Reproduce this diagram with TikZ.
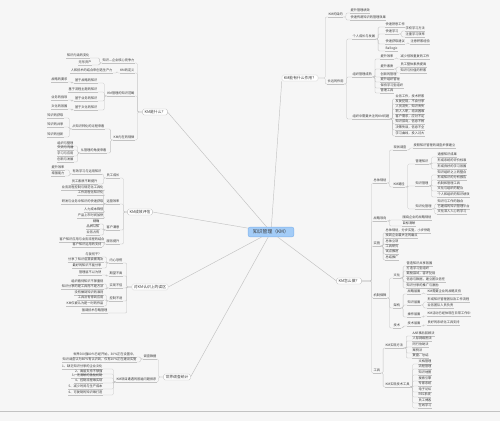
\documentclass[tikz,border=0pt]{standalone}
\usepackage{fontspec}
\setmainfont{Noto Sans CJK SC}
\definecolor{bg}{HTML}{F6F6F6}
\definecolor{ln}{HTML}{C2C2C2}
\definecolor{tx}{HTML}{3A3A3A}
\definecolor{ctrf}{HTML}{A3CCF7}
\definecolor{ctrd}{HTML}{7FB2EA}
\tikzset{
  leafbase/.style={font=\fontsize{3.2}{3.8}\selectfont, text=tx, inner xsep=0.4pt, inner ysep=0.5pt,
    text height=2.5pt, text depth=0.5pt,
    append after command={(\tikzlastnode.south west) edge[draw=ln,line width=0.3pt] (\tikzlastnode.south east)}},
  rleaf/.style={leafbase,anchor=south west},
  lleaf/.style={leafbase,anchor=south east},
  mainbox/.style={draw=ln, fill=white, rounded corners=1.5pt, line width=0.3pt,
    font=\fontsize{3.8}{4.4}\selectfont, text=tx, inner xsep=2pt, inner ysep=1.2pt,
    text height=2.9pt, text depth=0.6pt},
  ctrbox/.style={draw=ctrd, fill=ctrf, rounded corners=2pt, line width=0.4pt,
    font=\fontsize{4.8}{5.5}\selectfont, text=tx, inner xsep=5pt, inner ysep=2.6pt},
  cn/.style={draw=ln, line width=0.3pt, rounded corners=1.2pt},
  trunk/.style={draw=ln, line width=0.45pt},
}
\newcommand\conR[3][2.5pt]{\foreach \kid in {#3}{\draw[cn] (#2.south east) -- ++(#1,0) |- (\kid.south west);}}
\newcommand\conL[3][2.5pt]{\foreach \kid in {#3}{\draw[cn] (#2.south west) -- ++(-#1,0) |- (\kid.south east);}}
\newcommand\conRB[3][5pt]{\foreach \kid in {#3}{\draw[cn] (#2.east) -- ++(#1,0) |- (\kid.south west);}}
\newcommand\conLB[3][5pt]{\foreach \kid in {#3}{\draw[cn] (#2.west) -- ++(-#1,0) |- (\kid.south east);}}
\begin{document}
\begin{tikzpicture}[x=1pt,y=-1pt]
\path[fill=bg] (0,0) rectangle (500,421);
\useasboundingbox (0,0) rectangle (500,421);
\draw[ln, line width=0.4pt] (0,411) -- (500,411);

% centre
\node[ctrbox] (ctr) at (271,232) {知识管理（KM）};

% ===== KM是什么？ =====
\node[mainbox] (a0) at (155,112) {KM是什么？};
\node[lleaf] (a1) at (135,63) {知识—企业核心竞争力};
\node[lleaf] (a11) at (90,58) {知识内涵的变化};
\node[lleaf] (a12) at (92,65) {无形资产};
\node[lleaf] (a2) at (135,73) {KM的定义};
\node[lleaf] (a21) at (113,73) {人和技术的结合来创造生产力};
\node[lleaf] (a3) at (135,96) {KM管理的知识范畴};
\node[lleaf] (a31) at (98,83) {基于战略的知识};
\node[lleaf] (a311) at (68,82) {战略的要求};
\node[lleaf] (a32) at (98,92) {基于流程主题的知识};
\node[lleaf] (a33) at (98,101) {基于业务的知识};
\node[lleaf] (a331) at (68,100) {业务的指导};
\node[lleaf] (a34) at (98,110) {基于文化的知识};
\node[lleaf] (a341) at (68,109) {文化的氛围};
\node[lleaf] (a4) at (135,140) {KM内在的规律};
\node[lleaf] (a41) at (105,129) {从知识转化的过程来看};
\node[lleaf] (a411) at (64,118) {知识的获取};
\node[lleaf] (a412) at (64,127) {知识的共享};
\node[lleaf] (a413) at (64,137) {知识的创新};
\node[lleaf] (a42) at (107,153) {从管理的角度来看};
\node[lleaf] (a421) at (74,146) {组织与整理};
\node[lleaf] (a422) at (74,150) {交流与沟通};
\node[lleaf] (a423) at (74,156) {学习与应用};
\node[lleaf] (a424) at (74,162) {创新与发展};

% ===== KM成效评估 =====
\node[mainbox] (b0) at (140,212) {KM成效评估};
\node[lleaf] (b1) at (120,178) {员工成长};
\node[lleaf] (b11) at (102,174) {有效学习与运用知识};
\node[lleaf] (b111) at (65,170) {提升效率};
\node[lleaf] (b112) at (65,176) {增强能力};
\node[lleaf] (b12) at (98,184) {员工素质不断提升};
\node[lleaf] (b2) at (120,204) {运营效率};
\node[lleaf] (b21) at (104,190) {业务流程控制与规范化工具化};
\node[lleaf] (b22) at (104,195) {工作流程化知识化};
\node[lleaf] (b23) at (104,204) {研发与业务中知识的快速获取};
\node[lleaf] (b24) at (104,212) {人力成本降低};
\node[lleaf] (b25) at (104,218) {产品上市时间加快};
\node[lleaf] (b3) at (120,230) {客户满意};
\node[lleaf] (b31) at (100,224) {精确};
\node[lleaf] (b32) at (100,229) {品牌认知};
\node[lleaf] (b33) at (100,235) {业务占有};
\node[lleaf] (b4) at (120,244) {服务提升};
\node[lleaf] (b41) at (105,242) {客户知识应用与业务流程的结合};
\node[lleaf] (b42) at (102,247) {客户知识运用的支持};

% ===== 对KM认识上的误区 =====
\node[mainbox] (c0) at (150,287) {对KM认识上的误区};
\node[lleaf] (c1) at (123,263) {内心恐慌};
\node[lleaf] (c11) at (102,257) {与我何干？};
\node[lleaf] (c12) at (104,262) {分享了知识后我会被淘汰};
\node[lleaf] (c13) at (102,268) {最好的知识不能分享};
\node[lleaf] (c2) at (123,276) {期望不高};
\node[lleaf] (c21) at (102,275) {管理层不以为然};
\node[lleaf] (c3) at (123,288) {实现不佳};
\node[lleaf] (c31) at (104,284) {组织看待知识不够重视};
\node[lleaf] (c32) at (104,289) {知识分享的是工具而不是方法};
\node[lleaf] (c4) at (123,301) {控制不适};
\node[lleaf] (c41) at (104,295) {没有做到知识的准则};
\node[lleaf] (c42) at (104,300) {工具没有得到应用};
\node[lleaf] (c43) at (104,306) {KM仅被认为是一时的作品};
\node[lleaf] (c5) at (108,313) {强调技术忽略管理};

% ===== 世界调查统计 =====
\node[mainbox] (d0) at (177,377) {世界调查统计};
\node[lleaf] (d1) at (157,359) {调查数据};
\node[lleaf] (d11) at (137,357) {世界500强80\%已经开始，30\%正在设置中，};
\node[lleaf] (d12) at (137,362) {知识调查认为80\%有认识到，仅有10\%正在建设实施};
\node[lleaf] (d2) at (157,382) {KM项目遭遇的普遍问题排序};
\node[lleaf] (d21) at (103,369) {1、缺乏知识分享的企业文化};
\node[lleaf] (d22) at (103,374) {2、高层支持不够强};
\node[lleaf] (d23) at (103,378) {3、无清晰的激励机制};
\node[lleaf] (d24) at (103,383) {4、控制流程难实现};
\node[lleaf] (d25) at (103,389) {5、减少时间与生产成本};
\node[lleaf] (d26) at (103,395) {6、可复制的知识难打造};

% ===== KM能有什么作用？ =====
\node[mainbox] (e0) at (300,78) {KM能有什么作用？};
\node[rleaf] (e1) at (328,17) {KM的目的};
\node[rleaf] (e11) at (350,13) {提升管理绩效};
\node[rleaf] (e12) at (350,20) {快速传递知识的管理效果};
\node[rleaf] (e2) at (327,84) {长远的作用};
\node[rleaf] (e21) at (352,39) {个人成长与发展};
\node[rleaf] (e211) at (385,27) {快速熟悉工作};
\node[rleaf] (e212) at (385,34) {快速学习};
\node[rleaf] (e2121) at (405,31) {学校学习方法};
\node[rleaf] (e2122) at (405,37) {注重学习效率};
\node[rleaf] (e213) at (385,44) {快速获取建议};
\node[rleaf] (e2131) at (410,44) {注意积累经验};
\node[rleaf] (e214) at (385,51) {Ballogic};
\node[rleaf] (e22) at (352,77) {组织管理成熟};
\node[rleaf] (e221) at (380,59) {提升效率};
\node[rleaf] (e2211) at (400,59) {减少低效重复的工作};
\node[rleaf] (e222) at (380,69) {提升素质};
\node[rleaf] (e2221) at (400,67) {员工整体素质提高};
\node[rleaf] (e2222) at (400,73) {知识与价值的积累};
\node[rleaf] (e223) at (380,77) {创新的管理};
\node[rleaf] (e224) at (380,82) {提升组织管理};
\node[rleaf] (e225) at (380,88) {保持学习型组织};
\node[rleaf] (e226) at (380,93) {管理工具};
\node[rleaf] (e23) at (352,119) {组织中需要关注的KM问题};
\node[rleaf] (e231) at (395,99) {业务工作，技术积累};
\node[rleaf] (e232) at (395,104) {反复犯错，不会分享};
\node[rleaf] (e233) at (395,109) {人员流失，知识丢失};
\node[rleaf] (e234) at (395,114) {新人入职，培训困难};
\node[rleaf] (e235) at (395,119) {客户需求，应对不足};
\node[rleaf] (e236) at (395,124) {知识孤岛，信息不畅};
\node[rleaf] (e237) at (395,130) {决策失误，信息不全};
\node[rleaf] (e238) at (395,136) {学习曲线，投入过大};

% ===== KM怎么做？ =====
\node[mainbox] (f0) at (349,281) {KM怎么做？};
\node[rleaf] (f1) at (373,183) {总体规划};
\node[rleaf] (f11) at (393,150) {现状调查};
\node[rleaf] (f111) at (413,148) {按照知识管理的调查步骤建立};
\node[rleaf] (f12) at (393,187) {KM路径};
\node[rleaf] (f121) at (415,164) {管理知识};
\node[rleaf] (f1211) at (437,157) {通报知识成果};
\node[rleaf] (f1212) at (437,163) {形成系统的评价标准};
\node[rleaf] (f1213) at (437,169) {形成良好的学习氛围};
\node[rleaf] (f122) at (415,186) {知识管理};
\node[rleaf] (f1221) at (437,175) {知识组织之上的整合};
\node[rleaf] (f1222) at (437,180) {形成知识的分析报告};
\node[rleaf] (f1223) at (437,186) {机制和管理工具};
\node[rleaf] (f1224) at (437,191) {文化与组织的配合};
\node[rleaf] (f1225) at (437,197) {个人和组织的知识绩效};
\node[rleaf] (f123) at (415,209) {知识化管理};
\node[rleaf] (f1231) at (437,204) {知识与工作的融合};
\node[rleaf] (f1232) at (437,209) {已建成的知识管理平台};
\node[rleaf] (f1233) at (437,214) {文化深入人心的学习};
\node[rleaf] (f2) at (373,221) {战略导向};
\node[rleaf] (f21) at (402,220) {围绕企业的战略规划};
\node[rleaf] (f22) at (402,226) {目标清晰};
\node[rleaf] (f3) at (373,246) {实施};
\node[rleaf] (f31) at (385,233) {总体规划，分步实施，小步快跑};
\node[rleaf] (f32) at (385,238) {找到企业最关注的痛点};
\node[rleaf] (f33) at (385,244) {总体立项};
\node[rleaf] (f34) at (385,249) {工具研究};
\node[rleaf] (f35) at (385,254) {试点推进};
\node[rleaf] (f36) at (385,260) {总结推广};
\node[rleaf] (f4) at (373,298) {机制保障};
\node[rleaf] (f41) at (393,278) {文化};
\node[rleaf] (f411) at (406,266) {营造知识共享氛围};
\node[rleaf] (f412) at (406,271) {打造学习型组织};
\node[rleaf] (f413) at (406,276) {鼓励尝试，容许犯错};
\node[rleaf] (f414) at (406,282) {信息与数据，建立团队信任};
\node[rleaf] (f415) at (406,288) {知识分享的推广与激励};
\node[rleaf] (f42) at (393,308) {架构};
\node[rleaf] (f421) at (407,294) {战略层面};
\node[rleaf] (f4211) at (427,294) {KM需要企业的战略支持};
\node[rleaf] (f422) at (407,305) {知识层面};
\node[rleaf] (f4221) at (427,302) {形成知识管理团队及工作流程};
\node[rleaf] (f4222) at (427,308) {业务团队人员负责};
\node[rleaf] (f423) at (407,317) {操作层面};
\node[rleaf] (f4231) at (427,316) {KM活动已经体现在日常工作中};
\node[rleaf] (f43) at (393,328) {技术};
\node[rleaf] (f431) at (407,326) {技术层面};
\node[rleaf] (f4311) at (427,325) {良好的系统化工具支持};
\node[rleaf] (f5) at (373,373) {工具};
\node[rleaf] (f51) at (385,348) {KM实现方法};
\node[rleaf] (f511) at (412,336) {AAR事后回顾法};
\node[rleaf] (f512) at (412,341) {人际网络图法};
\node[rleaf] (f513) at (412,347) {同行协助法};
\node[rleaf] (f514) at (412,353) {案例法};
\node[rleaf] (f515) at (412,358) {复盘、总结};
\node[rleaf] (f52) at (385,387) {KM实现技术工具};
\node[rleaf] (f521) at (418,364) {文档管理};
\node[rleaf] (f522) at (418,369) {流程管理};
\node[rleaf] (f523) at (418,375) {知识地图};
\node[rleaf] (f524) at (418,381) {搜索引擎};
\node[rleaf] (f525) at (418,386) {专家系统};
\node[rleaf] (f526) at (418,392) {电子论坛};
\node[rleaf] (f527) at (418,397) {RSS系统};
\node[rleaf] (f528) at (418,403) {员工博客};
\node[rleaf] (f529) at (418,408) {在线学习};

% ===== trunks =====
\draw[trunk] (ctr) -- (a0.east);
\draw[trunk] (ctr) -- (b0.east);
\draw[trunk] (ctr) -- (c0.east);
\draw[trunk] (ctr) -- (d0.east);
\draw[trunk] (ctr) -- (e0.south west);
\draw[trunk] (ctr) -- (f0.west);

% ===== connectors =====
\conLB[5pt]{a0}{a1,a2,a3,a4}
\conL{a1}{a11,a12}
\conL{a2}{a21}
\conL{a3}{a31,a32,a33,a34}
\conL{a31}{a311}
\conL{a33}{a331}
\conL{a34}{a341}
\conL{a4}{a41,a42}
\conL{a41}{a411,a412,a413}
\conL{a42}{a421,a422,a423,a424}

\conLB[4pt]{b0}{b1,b2,b3,b4}
\conL{b1}{b11,b12}
\conL{b11}{b111,b112}
\conL{b2}{b21,b22,b23,b24,b25}
\conL{b3}{b31,b32,b33}
\conL{b4}{b41,b42}

\conLB[5pt]{c0}{c1,c2,c3,c4,c5}
\conL{c1}{c11,c12,c13}
\conL{c2}{c21}
\conL{c3}{c31,c32}
\conL{c4}{c41,c42,c43}

\conLB[5pt]{d0}{d1,d2}
\conL{d1}{d11,d12}
\conL{d2}{d21,d22,d23,d24,d25,d26}

\conRB[7pt]{e0}{e1,e2}
\conR{e1}{e11,e12}
\conR{e2}{e21,e22,e23}
\conR{e21}{e211,e212,e213,e214}
\conR{e212}{e2121,e2122}
\conR{e213}{e2131}
\conR{e22}{e221,e222,e223,e224,e225,e226}
\conR{e221}{e2211}
\conR{e222}{e2221,e2222}
\conR{e23}{e231,e232,e233,e234,e235,e236,e237,e238}

\conRB[10pt]{f0}{f1,f2,f3,f4,f5}
\conR{f1}{f11,f12}
\conR{f11}{f111}
\conR{f12}{f121,f122,f123}
\conR{f121}{f1211,f1212,f1213}
\conR{f122}{f1221,f1222,f1223,f1224,f1225}
\conR{f123}{f1231,f1232,f1233}
\conR{f2}{f21,f22}
\conR{f3}{f31,f32,f33,f34,f35,f36}
\conR{f4}{f41,f42,f43}
\conR{f41}{f411,f412,f413,f414,f415}
\conR{f42}{f421,f422,f423}
\conR{f421}{f4211}
\conR{f422}{f4221,f4222}
\conR{f423}{f4231}
\conR{f43}{f431}
\conR{f431}{f4311}
\conR{f5}{f51,f52}
\conR{f51}{f511,f512,f513,f514,f515}
\conR{f52}{f521,f522,f523,f524,f525,f526,f527,f528,f529}
\end{tikzpicture}
\end{document}
